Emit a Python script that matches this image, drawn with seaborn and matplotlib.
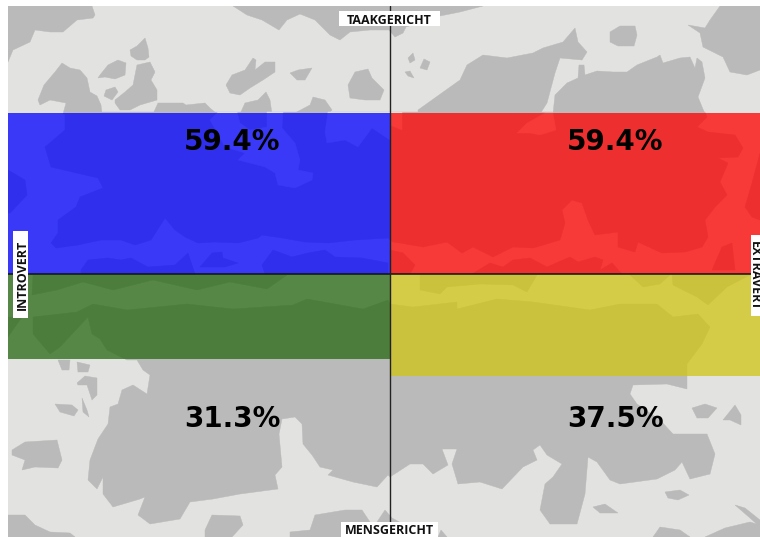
import matplotlib
matplotlib.use("Agg")
import matplotlib.pyplot as plt
from matplotlib.patches import Rectangle
from matplotlib.transforms import Affine2D
import numpy as np
import seaborn as sns

quadrants_top = ["Introvert-taakgericht", "Extravert-taakgericht"]
quadrants_bottom = ["Introvert-mensgericht", "Extravert-mensgericht"]
values_top = [59.4, 59.4]
values_bottom = [31.3, 37.5]
centres = [-55, 55]
colours_top = ["#0000ff", "#ff0000"]
colours_bottom = ["#276913", "#d0c413"]
label_top = "TAAKGERICHT"
label_bottom = "MENSGERICHT"
label_left = "INTROVERT"
label_right = "EXTRAVERT"

# Decorative background map, traced in image pixels
land = [
    [(8,6),(92,6),(95,15),(93,18),(77,20),(63,32),(50,32),(35,30),(30,42),(13,50),(8,62)],
    [(233,6),(247,15),(262,20),(279,30),(287,20),(300,14),(315,20),(330,35),(340,40),(350,32),(370,30),(389,30),(395,37),(403,33),(406,27),(440,16),(460,12),(483,6)],
    [(38,100),(44,85),(55,72),(62,63),(70,68),(80,70),(87,78),(90,92),(97,96),(101,105),(102,114),(63,114),(66,103),(50,100),(40,105)],
    [(100,75),(108,65),(118,60),(126,63),(125,75),(115,79),(105,77),(98,78)],
    [(130,50),(137,46),(145,38),(148,48),(149,57),(145,60),(137,60),(131,56)],
    [(115,100),(125,92),(133,85),(137,65),(150,62),(155,72),(151,80),(157,90),(157,100),(140,105),(130,110),(120,110),(115,103)],
    [(106,90),(115,87),(118,92),(112,100),(104,96)],
    [(153,114),(158,103),(183,103),(186,105),(205,103),(210,108),(217,114)],
    [(226,85),(232,75),(245,70),(253,58),(256,60),(255,70),(265,62),(275,62),(275,72),(263,80),(250,88),(240,95),(230,93)],
    [(290,73),(298,70),(312,68),(305,80),(297,80)],
    [(348,85),(355,72),(368,69),(372,78),(384,90),(380,100),(365,100),(350,98)],
    [(240,114),(245,103),(258,100),(266,92),(270,100),(272,114)],
    [(293,114),(310,105),(313,97),(325,100),(332,110),(328,114)],
    [(418,114),(418,110),(460,80),(467,65),(483,55),(507,58),(533,53),(543,48),(563,42),(575,28),(578,42),(587,52),(582,60),(560,58),(555,73),(547,103),(540,114)],
    [(553,114),(555,95),(567,83),(578,78),(579,65),(584,65),(585,75),(597,71),(613,72),(627,72),(637,65),(657,57),(660,55),(663,63),(680,58),(690,57),(695,68),(697,58),(702,62),(705,78),(698,97),(705,114)],
    [(610,32),(620,26),(635,26),(637,35),(634,46),(618,46),(610,42)],
    [(720,6),(710,20),(705,28),(688,25),(700,33),(703,47),(723,57),(730,72),(747,75),(760,70),(760,6)],
    [(408,58),(413,53),(415,60),(410,63)],
    [(420,68),(424,59),(430,62),(427,70)],
    [(405,72),(410,71),(414,78),(408,76)],
    # band under the blue and red bars
    [(65,112),(65,130),(45,147),(51,167),(98,178),(103,188),(80,197),(76,207),(58,220),(58,233),(51,243),(56,248),(78,245),(101,240),(121,240),(135,245),(151,240),(165,218),(175,230),(185,237),(198,243),(215,242),(238,243),(258,238),(262,235),(282,238),(305,242),(328,243),(355,240),(388,238),(393,242),(400,243),(423,247),(447,242),(462,253),(473,247),(493,257),(513,247),(533,248),(560,240),(565,223),(562,210),(572,200),(582,203),(588,220),(595,235),(618,232),(618,247),(635,252),(638,242),(662,253),(685,252),(702,247),(708,237),(705,220),(715,207),(727,195),(720,182),(728,163),(718,158),(738,157),(743,148),(735,135),(708,132),(697,127),(707,117),(705,112)],
    [(81,270),(88,260),(108,258),(121,260),(131,258),(148,267),(175,265),(188,253),(195,274),(81,274)],
    [(200,267),(212,253),(222,252),(223,258),(238,263),(225,267)],
    [(262,265),(273,250),(292,257),(308,253),(325,250),(335,257),(362,258),(388,263),(388,274),(265,274)],
    [(8,170),(25,180),(27,195),(10,213),(8,213)],
    [(390,250),(403,253),(415,265),(410,274),(390,274)],
    [(472,274),(490,263),(503,267),(513,260),(530,258),(547,267),(563,260),(570,257),(578,262),(595,257),(603,260),(600,270),(612,263),(622,274)],
    [(712,270),(722,247),(732,243),(735,270)],
    [(752,183),(760,153),(760,220),(752,217),(745,207)],
    # band under the green and yellow bars
    [(33,275),(32,295),(57,290),(83,282),(113,290),(153,280),(197,290),(230,282),(267,289),(287,275)],
    [(420,275),(420,290),(440,294),(447,287),(480,284),(513,285),(527,292),(537,275)],
    [(630,275),(643,287),(660,284),(670,275)],
    [(672,275),(673,285),(697,297),(708,305),(727,287),(750,275)],
    [(8,317),(22,317),(8,337)],
    # large southern land mass
    [(33,317),(33,334),(50,354),(60,347),(88,317),(92,334),(100,339),(107,350),(127,360),(137,360),(143,370),(150,375),(147,394),(133,385),(122,390),(118,404),(110,407),(108,424),(98,439),(90,460),(88,480),(97,489),(103,477),(103,494),(113,507),(140,499),(145,497),(138,515),(150,524),(180,519),(190,502),(213,499),(240,494),(278,489),(275,475),(282,467),(279,434),(282,419),(295,417),(302,424),(303,444),(312,455),(320,467),(333,470),(328,475),(353,482),(377,487),(388,475),(390,477),(410,464),(423,464),(433,474),(448,465),(442,449),(457,449),(452,464),(458,484),(480,482),(502,489),(523,467),(537,460),(533,450),(540,445),(547,455),(562,464),(553,477),(545,484),(540,510),(550,524),(577,524),(585,494),(588,457),(597,462),(610,480),(620,484),(657,479),(675,470),(682,462),(690,479),(710,474),(715,454),(707,434),(673,434),(660,420),(637,404),(630,394),(633,385),(667,384),(687,389),(687,364),(702,344),(710,327),(698,314),(673,317),(657,304),(620,304),(590,310),(533,302),(497,299),(457,309),(457,302),(413,307),(390,304),(388,300),(363,309),(307,299),(293,305),(233,309),(187,304),(127,310),(93,304),(77,312)],
    [(58,360),(70,360),(69,370),(62,370)],
    [(77,362),(90,365),(88,372),(78,372)],
    [(77,383),(85,376),(97,378),(97,395),(92,400),(87,385),(78,385)],
    [(82,398),(87,410),(89,417),(83,412)],
    [(55,404),(72,405),(78,410),(74,416),(60,412)],
    [(12,450),(25,442),(57,440),(62,460),(58,468),(35,467),(22,470),(25,460),(12,455)],
    [(8,515),(25,515),(35,525),(50,532),(70,533),(75,537),(8,537)],
    [(205,530),(212,515),(240,516),(243,525),(232,537),(205,537)],
    [(290,532),(310,530),(315,515),(345,510),(362,510),(370,522),(370,537),(290,537)],
    [(377,522),(385,510),(392,518),(403,524),(395,526),(377,526)],
    [(438,537),(441,530),(447,537)],
    [(665,492),(680,490),(689,495),(678,500),(668,498)],
    [(593,507),(605,504),(618,513),(600,513)],
    [(692,408),(705,404),(717,408),(708,418),(697,418)],
    [(723,420),(735,405),(741,415),(741,425),(730,420)],
    [(735,505),(745,508),(760,520),(760,527),(750,518)],
    [(653,537),(660,527),(680,530),(690,537)],
    [(705,537),(725,528),(750,522),(760,525),(760,537)],
]
sea = [
    [(210,120),(218,112),(237,112),(240,123),(250,130),(267,127),(267,112),(283,112),(282,128),(295,143),(300,160),(298,170),(313,173),(312,180),(295,188),(278,185),(275,173),(265,167),(238,160),(245,153),(225,147)],
    [(328,112),(402,112),(402,130),(390,125),(390,140),(372,128),(358,147),(345,140),(327,143),(325,132)],
    [(517,133),(527,123),(545,113),(553,113),(556,130),(540,135),(530,133)],
]

sns.set_theme(style="white")
plt.rcParams["font.family"] = ["DejaVu Sans"]

fig = plt.figure(figsize=(7.6, 5.37), dpi=100, facecolor="white")
ax = fig.add_axes([8 / 760, 0, 752 / 760, 531 / 537])

px = Affine2D().scale(1, -1).translate(0, 537)
ax.set_facecolor("#e2e2e0")
for shape in land:
    pts = np.array(shape)
    ax.fill(pts[:, 0], pts[:, 1], color="#bababa", lw=0.3, transform=px, zorder=0.2)
for shape in sea:
    pts = np.array(shape)
    ax.fill(pts[:, 0], pts[:, 1], color="#e2e2e0", lw=0.3, transform=px, zorder=0.3)

sns.barplot(x=centres, y=values_top, hue=quadrants_top, palette=colours_top,
            native_scale=True, width=1, dodge=False, saturation=1, alpha=0.75,
            legend=False, ax=ax, zorder=1, linewidth=0)
sns.barplot(x=centres, y=[-v for v in values_bottom], hue=quadrants_bottom,
            palette=colours_bottom, native_scale=True, width=1, dodge=False,
            saturation=1, alpha=0.75, legend=False, ax=ax, zorder=1, linewidth=0)

sx, sy = 3.75, 2.72
x0, y0 = 389.5, 274.3
ax.set_xlim((8 - x0) / sx, (760 - x0) / sx)
ax.set_ylim((y0 - 537) / sy, (y0 - 6) / sy)
ax.set_xticks([]); ax.set_yticks([]); ax.set_xlabel(""); ax.set_ylabel("")
for s in ax.spines.values():
    s.set_visible(False)

ax.axhline(0, color="#111111", lw=1.1, zorder=3)
ax.axvline(0, color="#222222", lw=1.0, zorder=3)

for xp, yp, v in [(232, 142, values_top[0]), (615.5, 142, values_top[1]),
                  (232, 419, values_bottom[0]), (615.5, 419, values_bottom[1])]:
    ax.text((xp - x0) / sx, (y0 - yp) / sy, f"{v}%", ha="center", va="center",
            fontsize=20, fontweight="bold", color="black", zorder=5)

for bx, by, bw, bh in [(339, 11, 101, 15), (341, 522, 97, 15), (13, 231, 15, 87), (750.5, 235, 10, 81)]:
    ax.add_patch(Rectangle((bx, by), bw, bh, facecolor="white", edgecolor="none",
                           transform=px, zorder=4))

lab = dict(ha="center", va="center_baseline", fontsize=9, fontweight="bold",
           family="Open Sans", color="#111111", zorder=6, rotation_mode="anchor")
ax.text(0, (y0 - 18.5) / sy, label_top, **lab)
ax.text(0, (y0 - 529) / sy, label_bottom, **lab)
ax.text((20.5 - x0) / sx, (y0 - 274.5) / sy, label_left, rotation=90, **lab)
ax.text((755.5 - x0) / sx, (y0 - 275.5) / sy, label_right, rotation=-90, **lab)

fig.savefig("out.png", dpi=100, facecolor="white")
